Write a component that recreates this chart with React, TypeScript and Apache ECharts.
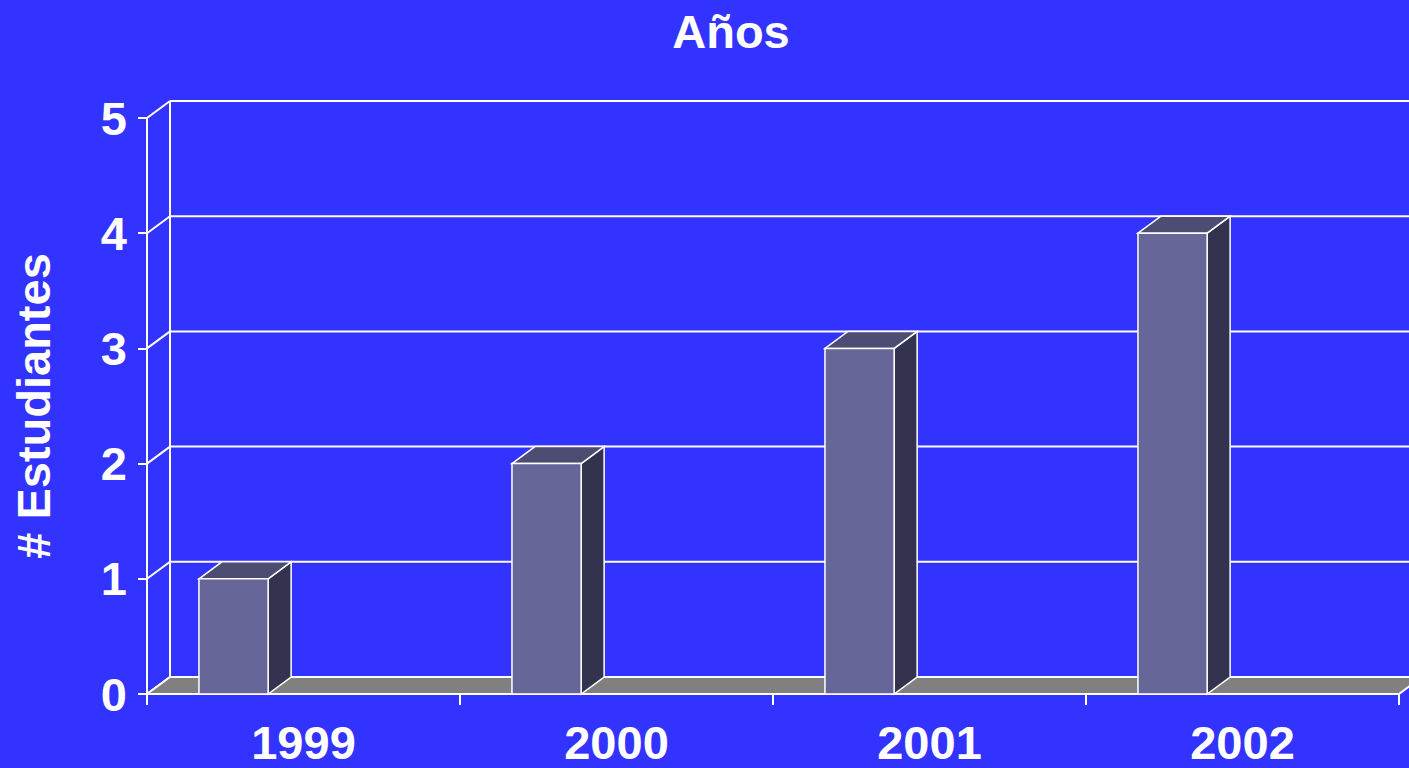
import React, { useEffect, useRef } from "react";
import * as echarts from "echarts";

const categories = ["1999", "2000", "2001", "2002"];
const students = [1, 2, 3, 4];
const yTicks = [0, 1, 2, 3, 4, 5];

const FONT = "'Liberation Sans', Arial, sans-serif";
const DX = 23;
const DY = -17;

export default function App() {
  const ref = useRef<HTMLDivElement>(null);
  useEffect(() => {
    if (!ref.current) return;
    const chart = echarts.init(ref.current, null, { renderer: "svg" });
    const option: any = {
      animation: false,
      backgroundColor: "#3333FF",
      graphic: [
        {
          type: "text",
          x: 731,
          y: 31,
          style: {
            text: "Años",
            fill: "#FFFFFF",
            font: `bold 47px ${FONT}`,
            textAlign: "center",
            textVerticalAlign: "middle",
          },
        },
      ],
      grid: {
        left: 147,
        right: 10,
        top: 118,
        bottom: 74,
        containLabel: false,
        outerBoundsMode: "none",
      },
      xAxis: {
        type: "category",
        data: categories,
        boundaryGap: true,
        axisLine: { show: false },
        axisTick: { show: true, length: 11, lineStyle: { color: "#FFFFFF", width: 2 } },
        axisLabel: {
          color: "#FFFFFF",
          fontFamily: FONT,
          fontWeight: "bold",
          fontSize: 47,
          lineHeight: 38,
          margin: 29,
        },
        splitLine: { show: false },
      },
      yAxis: {
        type: "value",
        min: 0,
        max: 5,
        interval: 1,
        name: "# Estudiantes",
        nameLocation: "middle",
        nameRotate: 90,
        nameGap: 94,
        nameTextStyle: { color: "#FFFFFF", fontFamily: FONT, fontWeight: "bold", fontSize: 47, lineHeight: 40 },
        axisLine: { show: true, lineStyle: { color: "#FFFFFF", width: 2 } },
        axisTick: { show: true, length: 9, lineStyle: { color: "#FFFFFF", width: 2 } },
        axisLabel: { color: "#FFFFFF", fontFamily: FONT, fontWeight: "bold", fontSize: 47, margin: 20 },
        splitLine: { show: false },
      },
      series: [
        {
          type: "custom",
          name: "grid",
          z: 1,
          data: yTicks.map((v) => [0, v]),
          renderItem: (params: any, api: any) => {
            const cs = params.coordSys;
            const y = api.coord([0, api.value(1)])[1];
            const stroke = { stroke: "#FFFFFF", lineWidth: 2 };
            return {
              type: "group",
              children: [
                { type: "line", shape: { x1: cs.x, y1: y, x2: cs.x + DX, y2: y + DY }, style: stroke },
                { type: "line", shape: { x1: cs.x + DX, y1: y + DY, x2: cs.x + cs.width + DX + 40, y2: y + DY }, style: stroke },
              ],
            };
          },
        },
        {
          type: "custom",
          name: "frame",
          z: 2,
          data: [[0, 0]],
          renderItem: (params: any, api: any) => {
            const cs = params.coordSys;
            const yb = cs.y + cs.height;
            const xl = cs.x;
            const xr = cs.x + cs.width;
            return {
              type: "group",
              children: [
                {
                  type: "line",
                  shape: { x1: xl + DX, y1: cs.y + DY, x2: xl + DX, y2: yb + DY },
                  style: { stroke: "#FFFFFF", lineWidth: 2 },
                },
                {
                  type: "polygon",
                  shape: { points: [[xl, yb], [xr, yb], [xr + DX, yb + DY], [xl + DX, yb + DY]] },
                  style: { fill: "#808080", stroke: "#FFFFFF", lineWidth: 2 },
                },
              ],
            };
          },
        },
        {
          type: "custom",
          name: "# Estudiantes",
          z: 3,
          data: students.map((v, i) => [i, v]),
          renderItem: (params: any, api: any) => {
            const i = api.value(0);
            const p0 = api.coord([i, 0]);
            const p1 = api.coord([i, api.value(1)]);
            const bw = api.size([1, 0])[0];
            const x0 = p0[0] - bw / 2 + bw * 0.166;
            const w = bw * 0.221;
            const yb = p0[1];
            const yt = p1[1];
            const st = { stroke: "#FFFFFF", lineWidth: 1.5 };
            return {
              type: "group",
              children: [
                {
                  type: "polygon",
                  shape: { points: [[x0 + w, yt], [x0 + w + DX, yt + DY], [x0 + w + DX, yb + DY], [x0 + w, yb]] },
                  style: { ...st, fill: "#333350" },
                },
                {
                  type: "polygon",
                  shape: { points: [[x0, yt], [x0 + DX, yt + DY], [x0 + w + DX, yt + DY], [x0 + w, yt]] },
                  style: { ...st, fill: "#4D4D73" },
                },
                {
                  type: "polygon",
                  shape: { points: [[x0, yt], [x0 + w, yt], [x0 + w, yb], [x0, yb]] },
                  style: { ...st, fill: "#666699" },
                },
              ],
            };
          },
        },
      ],
    };
    chart.setOption(option);
    return () => chart.dispose();
  }, []);
  return (
    <div
      ref={ref}
      style={{ position: "absolute", left: 0, top: 0, width: 1409, height: 768 }}
    />
  );
}
